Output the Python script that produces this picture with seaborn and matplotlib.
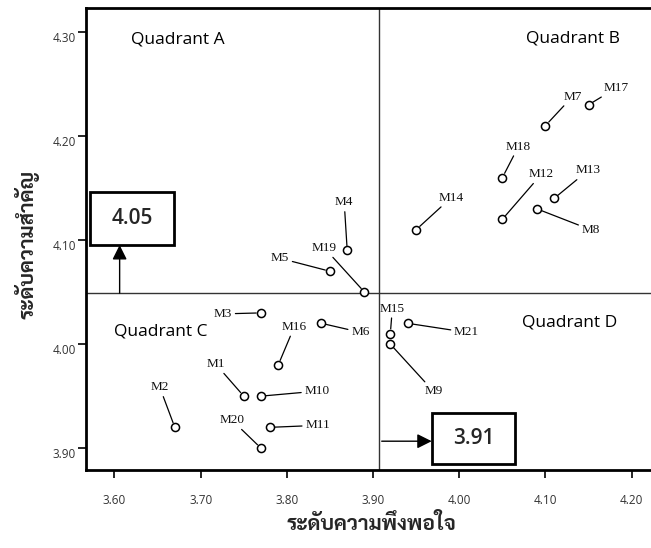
import matplotlib
matplotlib.use("Agg")
import pandas as pd
import seaborn as sns
import matplotlib.pyplot as plt
from matplotlib import font_manager
from matplotlib.patches import Rectangle
from matplotlib.transforms import ScaledTranslation


# ------------------------ DATA ------------------------

items = ["M1", "M2", "M3", "M4", "M5", "M6", "M7", "M8", "M9", "M10", "M11",
         "M12", "M13", "M14", "M15", "M16", "M17", "M18", "M19", "M20", "M21"]
satisfaction = [3.75, 3.67, 3.77, 3.87, 3.85, 3.84, 4.10, 4.09, 3.92, 3.77, 3.78,
                4.05, 4.11, 3.95, 3.92, 3.79, 4.15, 4.05, 3.89, 3.77, 3.94]
importance = [3.95, 3.92, 4.03, 4.09, 4.07, 4.02, 4.21, 4.13, 4.00, 3.95, 3.92,
              4.12, 4.14, 4.11, 4.01, 3.98, 4.23, 4.16, 4.05, 3.90, 4.02]

# label offsets from each point, in pixels (right / up)
label_dx = [-28, -15, -38, -3, -50, 39, 27, 54, 43, 56, 48,
            39, 34, 35, 2, 16, 28, 16, -40, -29, 59]
label_dy = [32, 40, -1, 48, 13, -9, 29, -21, -47, 5, 2,
            45, 28, 32, 25, 38, 17, 31, 44, 28, -9]

x_ticks = [3.60, 3.70, 3.80, 3.90, 4.00, 4.10, 4.20]
y_ticks = [3.90, 4.00, 4.10, 4.20, 4.30]

mean_x = 3.907   # vertical split (shown as 3.91)
mean_y = 4.049   # horizontal split (shown as 4.05)

quadrants = ["Quadrant A", "Quadrant B", "Quadrant C", "Quadrant D"]
quad_x = [3.673, 4.132, 3.654, 4.128]
quad_y = [4.293, 4.294, 4.012, 4.021]

x_label = "ระดับความพึงพอใจ"
y_label = "ระดับความสำคัญ"


# ------------------------ FONTS ------------------------

sns.set_style("white")
available = {f.name for f in font_manager.fontManager.ttflist}
thai_font = next((n for n in ["Sarabun", "Noto Sans Thai Looped", "Noto Sans Thai", "Athiti"]
                  if n in available), "DejaVu Sans")
plt.rcParams["font.family"] = ["Open Sans", "DejaVu Sans"]

df = pd.DataFrame({"item": items, "x": satisfaction, "y": importance,
                   "dx": label_dx, "dy": label_dy})


# ------------------------ PLOT ------------------------

fig = plt.figure(figsize=(6.51, 5.48), dpi=100)
ax = fig.add_axes([0.1316, 0.1423, 0.8684, 0.8431])

ax.axvline(mean_x, color="#333333", lw=1.0, zorder=1)
ax.axhline(mean_y, color="#333333", lw=1.0, zorder=1)

sns.scatterplot(data=df, x="x", y="y", ax=ax, marker="o", s=34,
                facecolor="white", edgecolor="black", linewidth=1.1, zorder=3)

for _, r in df.iterrows():
    ax.annotate(r["item"], xy=(r["x"], r["y"]), xytext=(r["dx"], r["dy"]),
                textcoords="offset pixels", ha="center", va="center",
                fontsize=9.5, family="Liberation Serif", color="#111111",
                arrowprops=dict(arrowstyle="-", color="black", lw=0.9,
                                shrinkA=0, shrinkB=3.5))

for name, qx, qy in zip(quadrants, quad_x, quad_y):
    ax.text(qx, qy, name, ha="center", va="center", fontsize=12.5, color="black")

# "4.05" callout box with upward arrow
ax.add_patch(Rectangle((3.5718, 4.0952), 0.0978, 0.0505, fill=False,
                       lw=2.0, edgecolor="black", zorder=4))
ax.text(3.6205, 4.1203, f"{mean_y:.2f}", ha="center", va="center", fontsize=15,
        fontweight="semibold")
ax.annotate("", xy=(3.606, 4.0952), xytext=(3.606, mean_y),
            arrowprops=dict(arrowstyle="-|>", color="black", lw=1.0,
                            mutation_scale=22, shrinkA=0, shrinkB=0))

# "3.91" callout box with rightward arrow
ax.add_patch(Rectangle((3.968, 3.8846), 0.0966, 0.0488, fill=False,
                       lw=2.0, edgecolor="black", zorder=4))
ax.text(4.0163, 3.909, f"{mean_x:.2f}", ha="center", va="center", fontsize=15,
        fontweight="semibold")
ax.annotate("", xy=(3.968, 3.9067), xytext=(3.910, 3.9067),
            arrowprops=dict(arrowstyle="-|>", color="black", lw=1.0,
                            mutation_scale=22, shrinkA=0, shrinkB=0))

ax.set_xlim(3.5666, 4.2224)
ax.set_ylim(3.879, 4.323)
ax.set_xticks(x_ticks)
ax.set_yticks(y_ticks)
ax.set_xticklabels([f"{v:.2f}" for v in x_ticks])
ax.set_yticklabels([f"{v:.2f}" for v in y_ticks])
ax.tick_params(axis="both", direction="out", length=6, width=1.2,
               color="black", labelsize=8.5, labelcolor="#333333",
               bottom=True, left=True)
ax.tick_params(axis="x", pad=11)
ax.tick_params(axis="y", pad=1)
for lab in ax.get_yticklabels():
    lab.set_va("top")
    lab.set_transform(lab.get_transform() + ScaledTranslation(0, 0, fig.dpi_scale_trans))

for side in ["left", "bottom", "top"]:
    ax.spines[side].set_linewidth(2.0)
    ax.spines[side].set_color("black")
ax.spines["right"].set_visible(False)

ax.set_xlabel(x_label, family=thai_font, fontsize=15, fontweight="bold")
ax.set_ylabel(y_label, family=thai_font, fontsize=15, fontweight="bold")
ax.xaxis.label.set_va("center")
ax.yaxis.label.set_va("center")
ax.xaxis.set_label_coords(0.506, -0.119)
ax.yaxis.set_label_coords(-0.104, 0.489)

fig.savefig("out.png", dpi=100)
